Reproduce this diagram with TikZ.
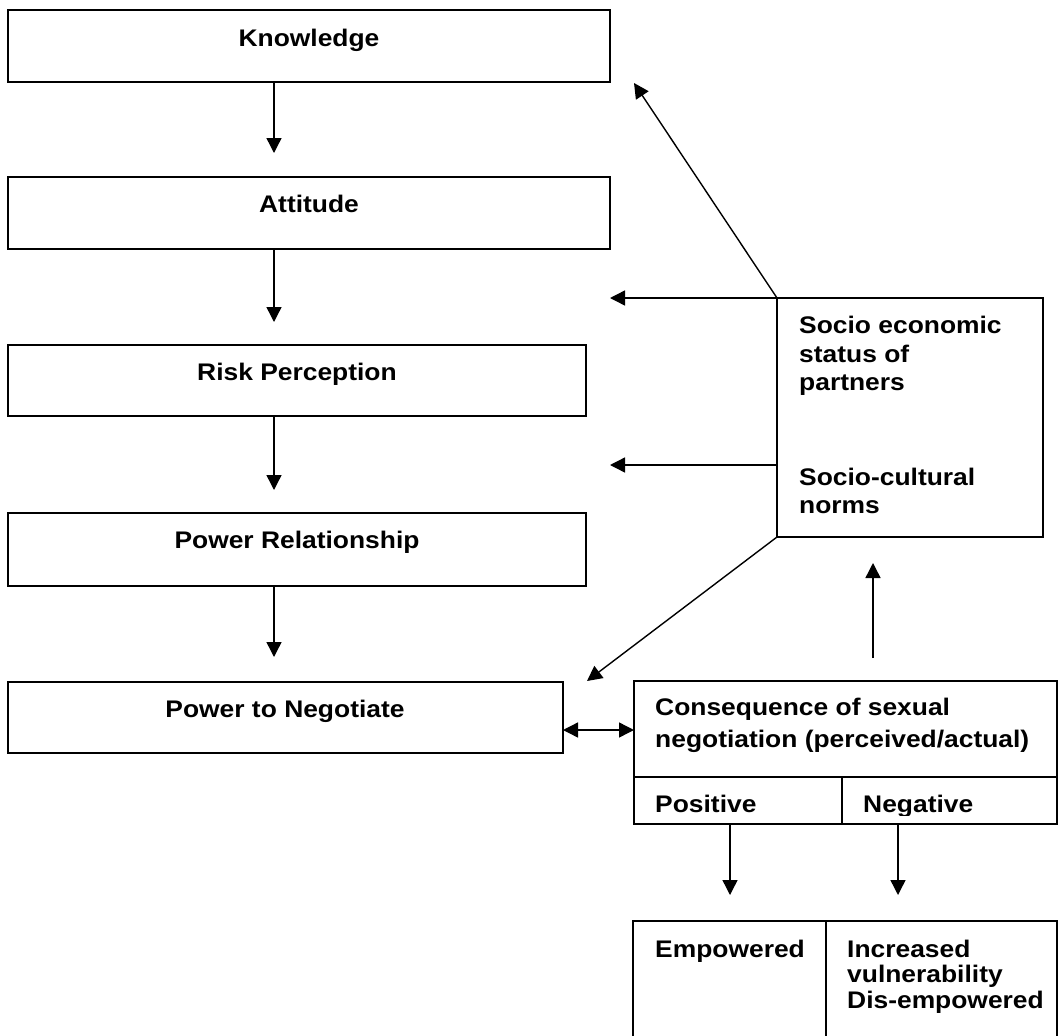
\documentclass[tikz,border=0pt]{standalone}
\usepackage{fontspec}
\setmainfont{Liberation Sans}[FakeStretch=1.1]
\usetikzlibrary{arrows.meta}
\begin{document}
\begin{tikzpicture}[x=1pt,y=-1pt,
  box/.style={draw, line width=1.8pt, inner sep=0pt, outer sep=0pt, anchor=north west},
  txt/.style={font=\fontsize{24}{28}\selectfont\bfseries, inner sep=0pt},
  arr/.style={line width=1.4pt, -{Triangle[length=15pt,width=15pt]}},
  darr/.style={line width=1.4pt, {Triangle[length=15pt,width=15pt]}-{Triangle[length=15pt,width=15pt]}},
]
\useasboundingbox (0,0) rectangle (1058,1036);

% boxes
\node[box, minimum width=602pt, minimum height=72pt] (know) at (8,10) {};
\node[box, minimum width=602pt, minimum height=72pt] (att) at (8,177) {};
\node[box, minimum width=578pt, minimum height=71pt] (risk) at (8,345) {};
\node[box, minimum width=578pt, minimum height=73pt] (powrel) at (8,513) {};
\node[box, minimum width=555pt, minimum height=71pt] (neg) at (8,682) {};
\node[box, minimum width=266pt, minimum height=239pt] (socio) at (777,298) {};
\node[box, minimum width=423pt, minimum height=143pt] (cons) at (634,681) {};
\node[box, minimum width=424pt, minimum height=125pt] (outc) at (633,921) {};

% cell dividers
\coordinate (divy) at (0,777);
\coordinate (divx) at (842,0);
\coordinate (divx2) at (826,0);
\draw[line width=1.8pt] (divy -| cons.west) -- (divy -| cons.east);
\draw[line width=1.8pt] (divy -| divx) -- (cons.south -| divx);
\draw[line width=1.8pt] (outc.north -| divx2) -- (outc.south -| divx2);

% texts in left boxes
\node[txt, anchor=base] (tknow) at (309,46) {Knowledge};
\node[txt, anchor=base] (tatt) at (309,212) {Attitude};
\node[txt, anchor=base] (trisk) at (297,380) {Risk Perception};
\node[txt, anchor=base] (tpowrel) at (297,548) {Power Relationship};
\node[txt, anchor=base] (tneg) at (285,717) {Power to Negotiate};

% right box texts
\node[txt, anchor=base west] (ts1) at (799,333) {Socio economic};
\node[txt, anchor=base west] (ts2) at (799,362) {status of};
\node[txt, anchor=base west] (ts3) at (799,390) {partners};
\node[txt, anchor=base west] (ts4) at (799,485) {Socio-cultural};
\node[txt, anchor=base west] (ts5) at (799,513) {norms};

% consequence texts
\node[txt, anchor=base west] (tc1) at (655,715) {Consequence of sexual};
\node[txt, anchor=base west] (tc2) at (655,747) {negotiation (perceived/actual)};
\begin{scope}
\clip (634,777) rectangle (1058,815);
\node[txt, anchor=base west] (tpos) at (655,812) {Positive};
\node[txt, anchor=base west] (tnegv) at (863,812) {Negative};
\end{scope}

% outcome texts
\node[txt, anchor=base west] (temp) at (655,957) {Empowered};
\node[txt, anchor=base west] (ti1) at (847,957) {Increased};
\node[txt, anchor=base west] (ti2) at (847,982) {vulnerability};
\node[txt, anchor=base west] (ti3) at (847,1008) {Dis-empowered};

% vertical chain arrows
\coordinate (cx) at (274,0);
\draw[arr, shorten >=24pt] (know.south -| cx) -- (att.north -| cx);
\draw[arr, shorten >=23pt] (att.south -| cx) -- (risk.north -| cx);
\draw[arr, shorten >=23pt] (risk.south -| cx) -- (powrel.north -| cx);
\draw[arr, shorten >=25pt] (powrel.south -| cx) -- (neg.north -| cx);

% arrows from socio box
\coordinate (kt) at (634,83);
\coordinate (at1) at (610,298);
\coordinate (at2) at (610,465);
\coordinate (nt) at (587,681);
\draw[arr] (socio.north west) -- (kt);
\draw[arr] (socio.north west) -- (at1);
\draw[arr] (at2 -| socio.west) -- (at2);
\draw[arr] (socio.south west) -- (nt);

% upward arrow from consequence to socio
\coordinate (ux) at (873,0);
\draw[arr, shorten <=23pt, shorten >=26pt] (cons.north -| ux) -- (socio.south -| ux);

% double arrow
\coordinate (dy) at (0,730);
\draw[darr] (dy -| neg.east) -- (dy -| cons.west);

% down arrows to outcome
\coordinate (px) at (730,0);
\coordinate (nx) at (898,0);
\draw[arr, shorten >=26pt] (cons.south -| px) -- (outc.north -| px);
\draw[arr, shorten >=26pt] (cons.south -| nx) -- (outc.north -| nx);
\end{tikzpicture}
\end{document}
